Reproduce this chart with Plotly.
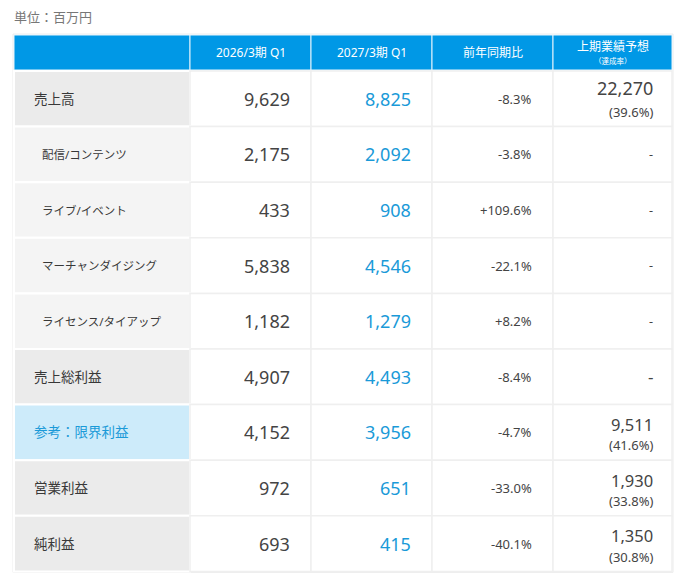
import plotly.graph_objects as go

# data (百万円)
headers = ["", "2026/3期 Q1", "2027/3期 Q1", "前年同期比", "上期業績予想"]
header_sub = "（達成率）"
row_labels = [
    "売上高",
    "配信/コンテンツ",
    "ライブ/イベント",
    "マーチャンダイジング",
    "ライセンス/タイアップ",
    "売上総利益",
    "参考：限界利益",
    "営業利益",
    "純利益",
]
row_kind = ["main", "sub", "sub", "sub", "sub", "main", "ref", "main", "main"]
prev_q1 = [9629, 2175, 433, 5838, 1182, 4907, 4152, 972, 693]
curr_q1 = [8825, 2092, 908, 4546, 1279, 4493, 3956, 651, 415]
yoy = ["-8.3%", "-3.8%", "+109.6%", "-22.1%", "+8.2%", "-8.4%", "-4.7%", "-33.0%", "-40.1%"]
forecast = [22270, None, None, None, None, None, 9511, 1930, 1350]
achieved = ["39.6%", None, None, None, None, None, "41.6%", "33.8%", "30.8%"]

# layout (page pixels; the page body has an 8px margin)
W, H = 691, 582
OFF = 8
col_edges = [14, 190, 311, 432, 553, 672]
head_top, head_bot = 35, 70
row_top, row_h = 71, 55.6

FONT = "Noto Sans, Noto Sans CJK JP, sans-serif"
DARK = "#444444"
LABEL = "#383838"
BLUE_TXT = "#1a9ad8"
HEAD_BG = "#0098e6"
fills = {"main": "#ebebeb", "sub": "#f4f4f4", "ref": "#cdebfa"}

fig = go.Figure()
shapes = []
ann = []


def rect(x0, y0, x1, y1, fill, line, lw):
    shapes.append(dict(type="rect", xref="x", yref="y", x0=x0, y0=y0, x1=x1, y1=y1,
                       fillcolor=fill, line=dict(color=line, width=lw), layer="below"))


def text(x, y, s, size, color, anchor="right", yshift=0):
    ann.append(dict(x=x, y=y, xref="x", yref="y", text=s, showarrow=False,
                    xanchor=anchor, yanchor="middle", yshift=yshift,
                    font=dict(family=FONT, size=size, color=color)))


# outer frame
rect(col_edges[0] - 1, head_top - 1, col_edges[-1] + 1,
     row_top + row_h * len(row_labels) + 1, "white", "#ececec", 1)

# header
for c in range(5):
    x0, x1 = col_edges[c], col_edges[c + 1]
    rect(x0, head_top, x1, head_bot, HEAD_BG, "#e6f4fc", 1)
    xm = (x0 + x1) / 2
    ym = (head_top + head_bot) / 2
    if c == 4:
        text(xm, ym, headers[c], 12, "white", "center", yshift=6)
        text(xm, ym, header_sub, 7.5, "white", "center", yshift=-8)
    elif headers[c]:
        text(xm, ym, headers[c], 12, "white", "center")

# body
for r, label in enumerate(row_labels):
    y0 = row_top + r * row_h
    y1 = y0 + row_h
    ym = (y0 + y1) / 2
    kind = row_kind[r]
    rect(col_edges[0], y0, col_edges[1], y1, fills[kind], "white", 2)
    for c in range(1, 5):
        rect(col_edges[c], y0, col_edges[c + 1], y1, "white", "#efefef", 1.5)

    if kind == "sub":
        text(col_edges[0] + 26, ym, label, 11.5, LABEL, "left")
    elif kind == "ref":
        text(col_edges[0] + 18, ym, label, 13.5, BLUE_TXT, "left")
    else:
        text(col_edges[0] + 18, ym, label, 13.5, LABEL, "left")

    text(col_edges[2] - 19, ym, f"{prev_q1[r]:,}", 18, DARK)
    text(col_edges[3] - 19, ym, f"{curr_q1[r]:,}", 18, BLUE_TXT)
    text(col_edges[4] - 19, ym, yoy[r], 13, DARK)

    xr = col_edges[5] - 17
    if forecast[r] is None:
        if kind == "main":
            text(xr, ym, "-", 17, DARK)
        else:
            text(xr, ym, "-", 12.5, DARK)
    else:
        big = 18 if r == 0 else 16.5
        up = 11 if r == 0 else 8
        text(xr, ym, f"{forecast[r]:,}", big, DARK, yshift=up)
        text(xr, ym, f"({achieved[r]})", 13, DARK, yshift=-13)

# unit note
ann.append(dict(x=12, y=17, xref="x", yref="y", text="単位：百万円", showarrow=False,
                xanchor="left", yanchor="middle",
                font=dict(family=FONT, size=13, color="#777777")))

fig.update_layout(
    width=W,
    height=H,
    margin=dict(l=0, r=0, t=0, b=0),
    paper_bgcolor="white",
    plot_bgcolor="white",
    xaxis=dict(range=[OFF, W + OFF], visible=False, fixedrange=True),
    yaxis=dict(range=[H + OFF, OFF], visible=False, fixedrange=True),
    shapes=shapes,
    annotations=ann,
    showlegend=False,
)

fig.write_html("out.html")
